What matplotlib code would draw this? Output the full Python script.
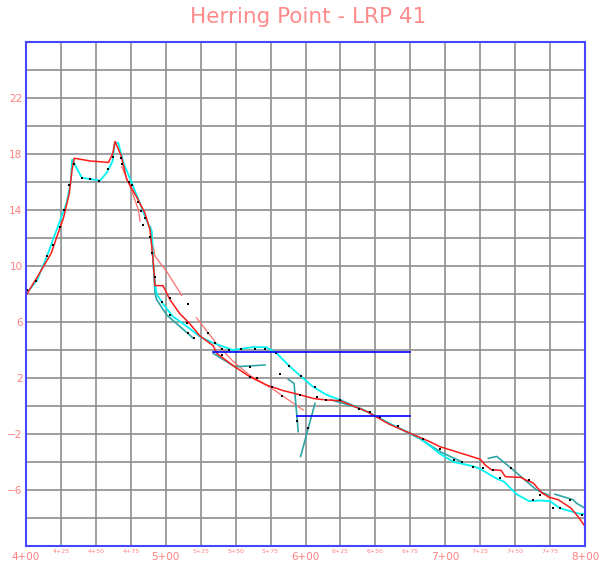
import matplotlib
matplotlib.use('Agg')
import matplotlib.pyplot as plt

# profile surveys, station (ft) vs elevation (ft)
red_sta = [400, 408, 418, 427, 431, 433, 434.5, 446, 459, 462, 463.7, 468, 472, 479, 485, 488.7, 490,
           491.1, 492.3, 498, 503, 510, 517, 524.5, 534, 536.5, 548, 560, 572, 584, 596, 606, 615, 625,
           644, 660, 675, 689, 696, 725, 728.4, 733, 740, 743, 754, 758, 763, 769, 774, 781, 790, 795, 800]
red_elev = [7.9, 9.2, 10.9, 13.5, 15.2, 16.9, 17.7, 17.5, 17.4, 18.0, 18.9, 17.9, 16.2, 14.95, 13.8, 12.6, 11.4,
            10.2, 8.6, 8.6, 7.6, 6.6, 5.9, 5.0, 4.3, 3.76, 2.9, 2.1, 1.5, 1.1, 0.8, 0.53, 0.43, 0.38,
            -0.4, -1.3, -1.95, -2.55, -2.9, -3.8, -4.2, -4.55, -4.6, -5.05, -5.1, -5.3, -5.5, -6.2, -6.5, -6.7, -7.3, -7.9, -8.6]

cyan_sta = [400, 408, 415, 422, 429, 432, 433, 440, 453, 458, 462, 463.5, 466, 470, 475, 481.5, 486, 490,
            490.5, 491, 492.3, 493.5, 498, 505, 515, 524.5, 534, 548, 562, 572, 579, 589, 597, 605, 615, 625,
            644, 660, 675, 682, 696, 706, 720, 725, 737, 742, 751, 760, 768, 775, 782, 789, 796, 800]
cyan_elev = [8.0, 9.0, 10.7, 12.6, 14.5, 16.0, 17.6, 16.3, 16.1, 16.7, 17.5, 18.8, 18.8, 17.3, 16.1, 14.5, 13.3, 12.5,
             11.6, 10.2, 8.8, 8.0, 7.3, 6.4, 5.7, 4.95, 4.5, 4.0, 4.2, 4.2, 3.8, 2.8, 2.1, 1.4, 0.8, 0.43,
             -0.4, -1.24, -1.95, -2.3, -3.4, -4.0, -4.3, -4.5, -5.2, -5.4, -6.3, -6.8, -6.75, -6.8, -7.3, -7.5, -7.7, -7.7]

# older survey pieces
teal1_sta = [489, 490.5, 491.5, 492.3, 493.5, 500.7, 510.2, 519.7]
teal1_elev = [12.8, 11.0, 9.5, 8.05, 7.6, 6.5, 5.67, 4.84]
teal2_sta = [534, 549.5, 571]
teal2_elev = [3.76, 2.8, 2.93]
teal3_sta = [587.7, 591.8, 594.8]
teal3_elev = [1.9, 1.62, -1.83]
teal4_sta = [606.8, 596.5]
teal4_elev = [0.19, -3.6]
teal5_sta = [618, 640, 660, 682, 697, 712]
teal5_elev = [0.45, -0.2, -1.25, -2.35, -3.3, -4.0]
teal6_sta = [730.9, 736.8, 748.7, 758.3, 765.4, 773.7]
teal6_elev = [-3.74, -3.6, -4.57, -5.4, -6.0, -6.36]
teal7_sta = [778.5, 791.6, 794, 800]
teal7_elev = [-6.3, -6.7, -6.95, -7.3]

pink1_sta = [468.5, 474.4, 478, 480.4, 481.6]
pink1_elev = [17.1, 15.7, 14.7, 14.0, 13.2]
pink2_sta = [491.1, 492.3, 500.7, 511.4]
pink2_elev = [11.4, 10.7, 9.6, 7.9]
pink3_sta = [522, 536, 548, 560, 574.6, 598.4]
pink3_elev = [6.3, 4.5, 3.2, 2.2, 1.34, -0.29]

# shot points
dot_sta = [401, 407, 415, 419, 424, 427, 431, 434, 440, 446, 452, 459, 462, 468, 469, 474, 476, 480, 482,
           484, 485, 489, 490, 492, 497, 503, 503, 515, 516, 516, 520, 530, 535, 540, 540, 545, 554, 560,
           560, 564, 565, 571, 576, 579, 582, 583, 588, 594, 596, 597, 602, 607, 608, 615, 625, 638, 646,
           653, 666, 684, 696, 706, 712, 720, 727, 734, 739, 747, 760, 763, 768, 777, 782, 789, 798]
dot_elev = [8.3, 8.9, 10.7, 11.5, 12.8, 14.0, 15.8, 17.3, 16.3, 16.2, 16.1, 16.9, 17.8, 17.7, 17.3, 16.0, 15.8, 14.6, 13.9,
            12.9, 13.4, 12.1, 10.9, 9.2, 7.45, 7.7, 6.5, 5.9, 7.3, 5.2, 4.84, 5.2, 4.5, 4.1, 3.64, 4.0, 4.05, 2.8,
            2.05, 4.1, 2.0, 4.1, 1.34, 3.76, 2.29, 0.7, 2.86, -1.1, 0.79, 2.14, -1.55, 1.34, 0.66, 0.43, 0.43, -0.24, -0.4,
            -0.76, -1.43, -2.35, -3.1, -3.86, -4.0, -4.33, -4.45, -4.57, -5.17, -4.45, -5.3, -6.7, -6.36, -7.3, -7.3, -6.7, -7.8]

# water levels
high_sta = [534, 675]
high_elev = [3.86, 3.86]
low_sta = [594, 675]
low_elev = [-0.7, -0.7]

major_sta = [400, 500, 600, 700, 800]
major_labels = ['4+00', '5+00', '6+00', '7+00', '8+00']
minor_sta = [425, 450, 475, 525, 550, 575, 625, 650, 675, 725, 750, 775]
minor_labels = ['4+25', '4+50', '4+75', '5+25', '5+50', '5+75', '6+25', '6+50', '6+75', '7+25', '7+50', '7+75']
y_label_vals = [22, 18, 14, 10, 6, 2, -2, -6]
y_labels = ['22', '18', '14', '10', '6', '2', '\u22122', '\u22126']
y_grid_vals = [24, 20, 16, 12, 8, 4, 0, -4, -8]

label_color = '#ff8080'
teal = '#2fa5a5'
pink = '#ff7070'

fig = plt.figure(figsize=(5.99, 5.69), dpi=100)
ax = fig.add_axes([26 / 599, 1 - 546 / 569, 559 / 599, 504 / 569])
ax.set_xlim(400, 800)
ax.set_ylim(-10, 26)

ax.set_xticks(major_sta)
ax.set_xticklabels(major_labels)
ax.set_xticks(minor_sta, minor=True)
ax.set_xticklabels(minor_labels, minor=True)
ax.set_yticks(y_label_vals)
ax.set_yticklabels(y_labels)
ax.set_yticks(y_grid_vals, minor=True)
ax.tick_params(axis='x', which='major', length=0, pad=4, labelsize=7.5, labelcolor=label_color)
ax.tick_params(axis='x', which='minor', length=0, pad=2, labelsize=4.5, labelcolor=label_color)
ax.tick_params(axis='y', which='both', length=0, pad=2.5, labelsize=7.5, labelcolor=label_color)
ax.grid(True, which='both', color='#8f8f8f', linewidth=1.2)
ax.set_axisbelow(True)
for side in ax.spines.values():
    side.set_color('#4646ff')
    side.set_linewidth(1.5)

for s, e in [(pink1_sta, pink1_elev), (pink2_sta, pink2_elev), (pink3_sta, pink3_elev)]:
    ax.plot(s, e, color=pink, linewidth=0.9)
for s, e in [(teal1_sta, teal1_elev), (teal2_sta, teal2_elev), (teal3_sta, teal3_elev), (teal4_sta, teal4_elev),
             (teal5_sta, teal5_elev), (teal6_sta, teal6_elev), (teal7_sta, teal7_elev)]:
    ax.plot(s, e, color=teal, linewidth=1.2)
ax.plot(cyan_sta, cyan_elev, color='#00f4f4', linewidth=1.3)
ax.plot(red_sta, red_elev, color='#ff1a1a', linewidth=1.1)
ax.plot(dot_sta, dot_elev, linestyle='none', marker='s', markersize=1.6, markeredgewidth=0, color='black')
ax.plot(high_sta, high_elev, color='#0000ff', linewidth=1.2)
ax.plot(low_sta, low_elev, color='#0000ff', linewidth=1.2)

fig.text(0.514, 0.970, 'Herring Point - LRP 41', ha='center', va='center', fontsize=15.5, color='#ff8a8a')

plt.savefig('out.png', dpi=100)
